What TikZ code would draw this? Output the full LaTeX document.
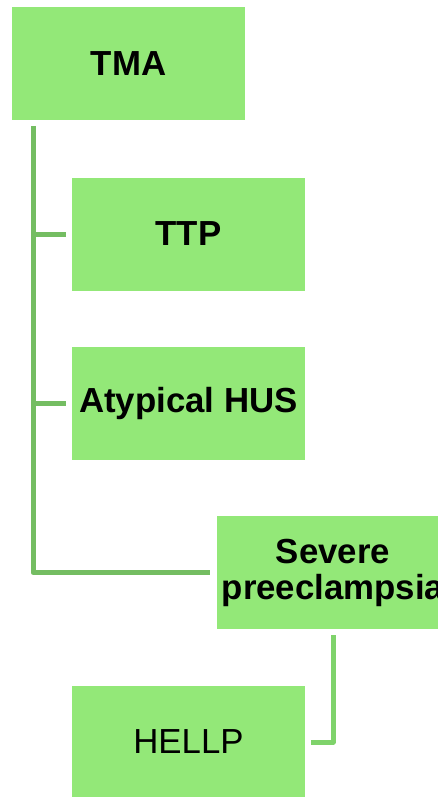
\documentclass[tikz,border=0pt]{standalone}
\usepackage{fontspec}
\setmainfont{Liberation Sans}
\definecolor{boxgreen}{HTML}{93E878}
\definecolor{lineA}{HTML}{74BD62}
\definecolor{lineB}{HTML}{7FD36B}
\begin{document}
\begin{tikzpicture}[x=1pt,y=-1pt,
  box/.style={fill=boxgreen, draw=none, minimum width=233pt, minimum height=113pt, inner sep=0pt, align=center, text=black},
  bold/.style={font=\fontsize{34.8}{36}\selectfont\bfseries},
  plain/.style={font=\fontsize{34.8}{36}\selectfont},
  connA/.style={draw=lineA, line width=5pt, line join=round},
  connB/.style={draw=lineB, line width=5pt, line join=round}]
\useasboundingbox (0,0) rectangle (438,797);
\clip (0,0) rectangle (438,797);
\node[box,bold] (TMA) at (128.5,64) {TMA};
\node[box,bold] (TTP) at (188.5,234) {TTP};
\node[box,bold] (AHUS) at (188.5,403) {Atypical HUS};
\node[box,bold] (SP) at (333,572.5) {Severe\\preeclampsia};
\node[box,plain] (HELLP) at (188.5,742) {HELLP};
\coordinate (trunk) at (33,126);
\draw[connA] (trunk) |- ([xshift=-6pt]SP.west);
\draw[connA] ([xshift=-6pt]TTP.west) -- (trunk |- TTP.west);
\draw[connA] ([xshift=-6pt]AHUS.west) -- (trunk |- AHUS.west);
\draw[connB] ([yshift=-6pt]SP.south) |- ([xshift=6pt]HELLP.east);
\end{tikzpicture}
\end{document}
